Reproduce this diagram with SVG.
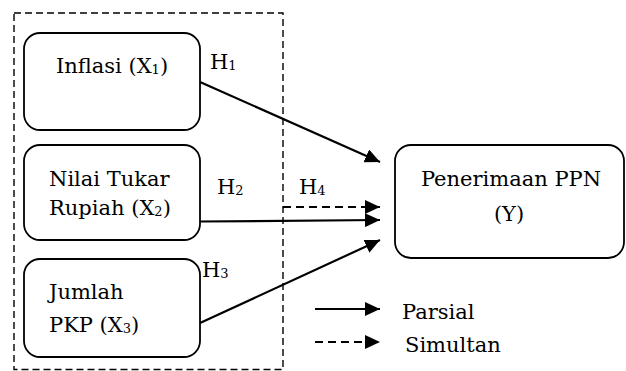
<svg xmlns="http://www.w3.org/2000/svg" width="626" height="371" viewBox="0 0 626 371">
<style>
text{font-family:"DejaVu Serif","Liberation Serif",serif;font-size:21px;fill:#000}
.box{fill:#fff;stroke:#000;stroke-width:1.8}
.frame{fill:none;stroke:#000;stroke-width:1.4;stroke-dasharray:7,4}
.ln{fill:none;stroke:#000;stroke-width:2.2}
.dash{stroke-dasharray:8,5}
.sub{font-size:13px}
</style>
<defs>
<marker id="ah" markerUnits="userSpaceOnUse" markerWidth="16" markerHeight="14" refX="15" refY="7" orient="auto">
<path d="M0,0 L15,7 L0,14 Z" fill="#000"/>
</marker>
</defs>
<rect class="frame" x="14" y="13" width="269" height="356.5"/>
<g id="connectors">
<line class="ln" x1="200" y1="82" x2="380" y2="162" marker-end="url(#ah)"/>
<polyline class="ln dash" points="283,207 380,207" marker-end="url(#ah)"/>
<line class="ln" x1="200" y1="221.5" x2="380" y2="220" marker-end="url(#ah)"/>
<line class="ln" x1="200" y1="323" x2="380" y2="240" marker-end="url(#ah)"/>
</g>
<g id="x1">
<rect class="box" x="24" y="33" width="176" height="97" rx="16"/>
<text x="112" y="73" text-anchor="middle">Inflasi (X<tspan class="sub" dy="1">1</tspan><tspan dy="-1">)</tspan></text>
</g>
<g id="x2">
<rect class="box" x="24" y="145" width="176" height="95" rx="16"/>
<text x="49" y="186">Nilai Tukar</text>
<text x="49" y="215">Rupiah (X<tspan class="sub" dy="1">2</tspan><tspan dy="-1">)</tspan></text>
</g>
<g id="x3">
<rect class="box" x="24" y="259" width="176" height="98" rx="16"/>
<text x="49" y="299">Jumlah</text>
<text x="49" y="332">PKP (X<tspan class="sub" dy="1">3</tspan><tspan dy="-1">)</tspan></text>
</g>
<g id="y">
<rect class="box" x="395" y="145" width="229" height="113" rx="16"/>
<text x="511" y="186" text-anchor="middle">Penerimaan PPN</text>
<text x="509" y="221" text-anchor="middle">(Y)</text>
</g>
<g id="labels">
<text x="210" y="69">H<tspan class="sub" dy="1">1</tspan></text>
<text x="217" y="194">H<tspan class="sub" dy="1">2</tspan></text>
<text x="202" y="277">H<tspan class="sub" dy="1">3</tspan></text>
<text x="299" y="194">H<tspan class="sub" dy="1">4</tspan></text>
</g>
<g id="legend">
<line class="ln" x1="315" y1="309" x2="380" y2="309" marker-end="url(#ah)"/>
<line class="ln dash" x1="315" y1="342" x2="380" y2="342" marker-end="url(#ah)"/>
<text x="402" y="319">Parsial</text>
<text x="405" y="352">Simultan</text>
</g>
</svg>
